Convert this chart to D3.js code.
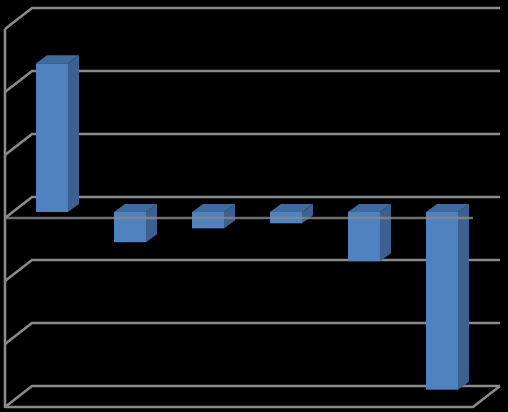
<!DOCTYPE html>
<html>
<head>
<meta charset="utf-8">
<script src="https://cdn.jsdelivr.net/npm/d3@7"></script>
<style>
html, body { margin: 0; padding: 0; background: #000; }
svg { display: block; }
</style>
</head>
<body>
<div id="chart"></div>
<script>
// No labels in the picture, so categories and units are placeholders.
const categories = ["A", "B", "C", "D", "E", "F"];
const values = [118, -24, -13, -9, -39, -141];
const tickValues = [-150, -100, -50, 0, 50, 100, 150];

const width = 508, height = 412;

// 3D box: how far the back wall is moved from the front edge of the floor
const wallDx = 27, wallDy = -21;
// bars stand part way in, and have their own depth
const barShiftX = 8, barShiftY = -6;
const barDx = 11, barDy = -8;

const gridColor = "#8a8a8a";
const gridWidth = 2.6;

const svg = d3.select("#chart").append("svg")
    .attr("width", width)
    .attr("height", height);

svg.append("rect")
    .attr("width", width)
    .attr("height", height)
    .attr("fill", "#000");

const x = d3.scaleBand()
    .domain(categories)
    .range([5, 473])
    .paddingInner(0.59)
    .paddingOuter(0.295);

const y = d3.scaleLinear()
    .domain([-150, 150])
    .range([407, 29]);

const poly = pts => pts.map(p => p.join(",")).join(" ");

// left wall
svg.append("line")
    .attr("x1", 5).attr("x2", 5)
    .attr("y1", y(150)).attr("y2", y(-150) + 1)
    .attr("stroke", gridColor)
    .attr("stroke-width", gridWidth);

// gridlines on the side and back wall
svg.append("g").selectAll("polyline")
    .data(tickValues)
    .join("polyline")
    .attr("points", d => poly([
        [5, y(d)],
        [5 + wallDx, y(d) + wallDy],
        [500, y(d) + wallDy]
    ]))
    .attr("fill", "none")
    .attr("stroke", gridColor)
    .attr("stroke-width", gridWidth);

// floor
svg.append("polyline")
    .attr("points", poly([
        [5, y(-150)],
        [473, y(-150)],
        [473 + wallDx, y(-150) + wallDy]
    ]))
    .attr("fill", "none")
    .attr("stroke", gridColor)
    .attr("stroke-width", gridWidth);

const bars = svg.append("g").selectAll("g")
    .data(categories.map((c, i) => ({ c: c, v: values[i] })))
    .join("g")
    .attr("transform", "translate(" + barShiftX + "," + barShiftY + ")");

// side face
bars.append("polygon")
    .attr("points", d => {
        const r = x(d.c) + x.bandwidth();
        return poly([
            [r, y(d.v)],
            [r + barDx, y(d.v) + barDy],
            [r + barDx, y(0) + barDy],
            [r, y(0)]
        ]);
    })
    .attr("fill", "#3c6190");

// top face
bars.append("polygon")
    .attr("points", d => {
        const l = x(d.c), r = l + x.bandwidth(), t = y(Math.max(d.v, 0));
        return poly([
            [l, t],
            [l + barDx, t + barDy],
            [r + barDx, t + barDy],
            [r, t]
        ]);
    })
    .attr("fill", "#416a9c");

// front face
bars.append("rect")
    .attr("x", d => x(d.c))
    .attr("y", d => y(Math.max(d.v, 0)))
    .attr("width", x.bandwidth())
    .attr("height", d => Math.abs(y(d.v) - y(0)))
    .attr("fill", "#5081c0");

// zero line runs along the front, faint where it crosses the bars
svg.append("line")
    .attr("x1", 5).attr("x2", 473)
    .attr("y1", y(0)).attr("y2", y(0))
    .attr("stroke", gridColor)
    .attr("stroke-width", gridWidth)
    .attr("stroke-opacity", 0.8);
</script>
</body>
</html>
